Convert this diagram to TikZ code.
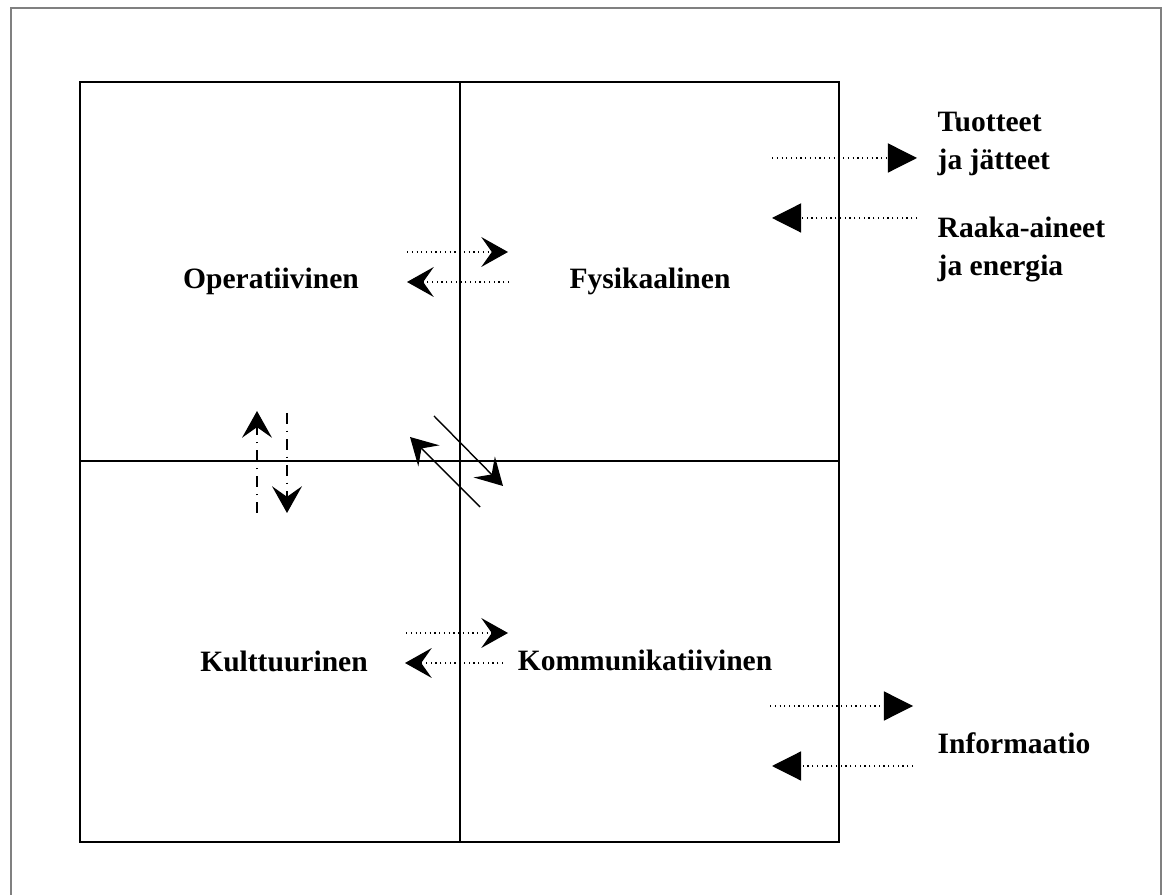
\documentclass[tikz,border=0pt]{standalone}
\usepackage{fontspec}
\setmainfont{Liberation Serif}
\usetikzlibrary{arrows.meta}

\tikzset{
  lbl/.style={font=\bfseries\fontsize{8.4}{10.8}\selectfont,inner sep=0pt},
  dotline/.style={densely dotted,line width=0.35pt},
  barb/.style={-{Stealth[length=7.6pt,width=8.5pt,inset=3pt]}},
  tri/.style={-{Triangle[length=8.3pt,width=8.3pt]}}
}

\begin{document}
\begin{tikzpicture}[x=0.01cm,y=-0.01cm]
  \useasboundingbox (0,0) rectangle (1164,895);
  % frame
  \draw[gray,line width=0.4pt] (11,900) -- (11,8) -- (1161,8) -- (1161,900);
  % the four fields
  \draw[line width=0.5pt] (80,82) rectangle (839,842);
  \draw[line width=0.5pt] (460,82) -- (460,842);
  \draw[line width=0.4pt] (80,461) -- (839,461);
  \node[lbl] (ope) at (271,281) {Operatiivinen};
  \node[lbl] (fys) at (650,281) {Fysikaalinen};
  \node[lbl] (kul) at (284,661) {Kulttuurinen};
  \node[lbl] (kom) at (645,660) {Kommunikatiivinen};
  % ends of the inner arrows
  \coordinate (of1) at (407,252);  \coordinate (of2) at (508,252);
  \coordinate (fo1) at (509,282);  \coordinate (fo2) at (407,282);
  \coordinate (kk1) at (406,633);  \coordinate (kk2) at (508,633);
  \coordinate (kk3) at (503,663);  \coordinate (kk4) at (405,663);
  \coordinate (ok1) at (287,413);  \coordinate (ok2) at (287,513);
  \coordinate (ko1) at (257,513);  \coordinate (ko2) at (257,411);
  \coordinate (df1) at (434,416);  \coordinate (df2) at (503,486);
  \coordinate (dk1) at (480,507);  \coordinate (dk2) at (410,437);
  \draw[dotline,barb] (of1) -- (of2);
  \draw[dotline,barb] (fo1) -- (fo2);
  \draw[dotline,barb] (kk1) -- (kk2);
  \draw[dotline,barb] (kk3) -- (kk4);
  \draw[dash dot,line width=0.35pt,barb] (ok1) -- (ok2);
  \draw[dash dot,line width=0.35pt,barb] (ko1) -- (ko2);
  \draw[line width=0.4pt,barb] (df1) -- (df2);
  \draw[line width=0.4pt,barb] (dk1) -- (dk2);
  % outside
  \node[lbl,anchor=west,align=left] (tuo) at (937,144) {Tuotteet\\ja jätteet};
  \node[lbl,anchor=west,align=left] (raa) at (937,250) {Raaka-aineet\\ja energia};
  \node[lbl,anchor=west] (inf) at (937,743) {Informaatio};
  \coordinate (tu1) at (772,158);  \coordinate (tu2) at (917,158);
  \coordinate (ra1) at (917,218);  \coordinate (ra2) at (772,218);
  \coordinate (in1) at (770,706);  \coordinate (in2) at (913,706);
  \coordinate (in3) at (913,766);  \coordinate (in4) at (772,766);
  \draw[dotline,tri] (tu1) -- (tu2);
  \draw[dotline,tri] (ra1) -- (ra2);
  \draw[dotline,tri] (in1) -- (in2);
  \draw[dotline,tri] (in3) -- (in4);
\end{tikzpicture}
\end{document}
